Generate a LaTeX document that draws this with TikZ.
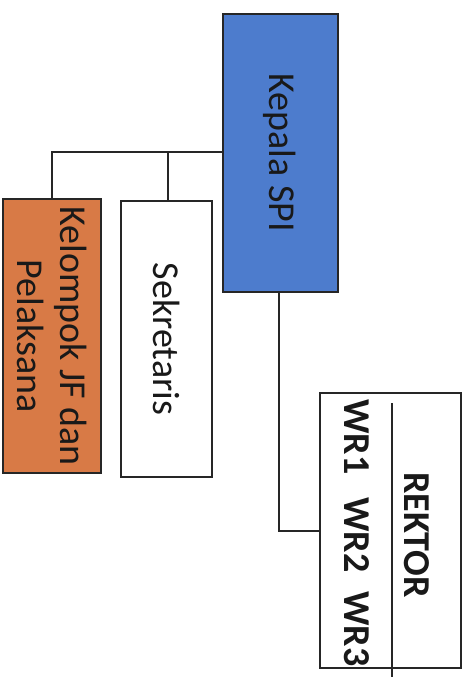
\documentclass[tikz,border=0pt]{standalone}
\usepackage{fontspec}
\setmainfont{Carlito}
\begin{document}
\begin{tikzpicture}[x=1pt,y=-1pt,
  box/.style={draw=black!85,line width=1.8pt,inner sep=0pt},
  lbl/.style={rotate=-90,font=\fontsize{38}{43}\selectfont,align=center,text=black!90},
  blbl/.style={rotate=-90,font=\fontsize{38}{43}\selectfont\bfseries,text=black!90},
  conn/.style={draw=black!85,line width=1.5pt}]
\useasboundingbox (0,0) rectangle (466,677);
\definecolor{spiblue}{RGB}{77,124,205}
\definecolor{jforange}{RGB}{216,122,70}
% boxes
\draw[box,fill=spiblue] (223,14) rectangle (338,292);
\node[lbl] (kepala) at (280,153) {Kepala SPI};
\coordinate (kepL) at (223,152);
\coordinate (kepB) at (279,292);
\draw[box,fill=jforange] (3,199) rectangle (101,473);
\node[lbl] (kelompok) at (52,336) {Kelompok JF dan\\Pelaksana};
\coordinate (kelT) at (52,199);
\draw[box,fill=white] (121,201) rectangle (212,477);
\node[lbl] (sekretaris) at (166.5,339) {Sekretaris};
\coordinate (sekT) at (168,201);
\draw[box,fill=white] (320,393) rectangle (461,668);
\coordinate (rekL) at (320,531);
\coordinate (innerT) at (392,403);
\coordinate (innerB) at (392,677);
\draw[conn,line width=1.2pt] (innerT) -- (innerB);
\node[blbl] (rektor) at (417,535) {REKTOR};
\node[blbl] (wr1) at (357,437) {WR1};
\node[blbl] (wr2) at (357,535) {WR2};
\node[blbl] (wr3) at (357,629) {WR3};
% connectors
\coordinate (jL) at (52,152);
\coordinate (jS) at (168,152);
\coordinate (jR) at (279,531);
\draw[conn] (kepL) -- (jL) -- (kelT);
\draw[conn] (jS) -- (sekT);
\draw[conn] (kepB) -- (jR) -- (rekL);
\end{tikzpicture}
\end{document}
